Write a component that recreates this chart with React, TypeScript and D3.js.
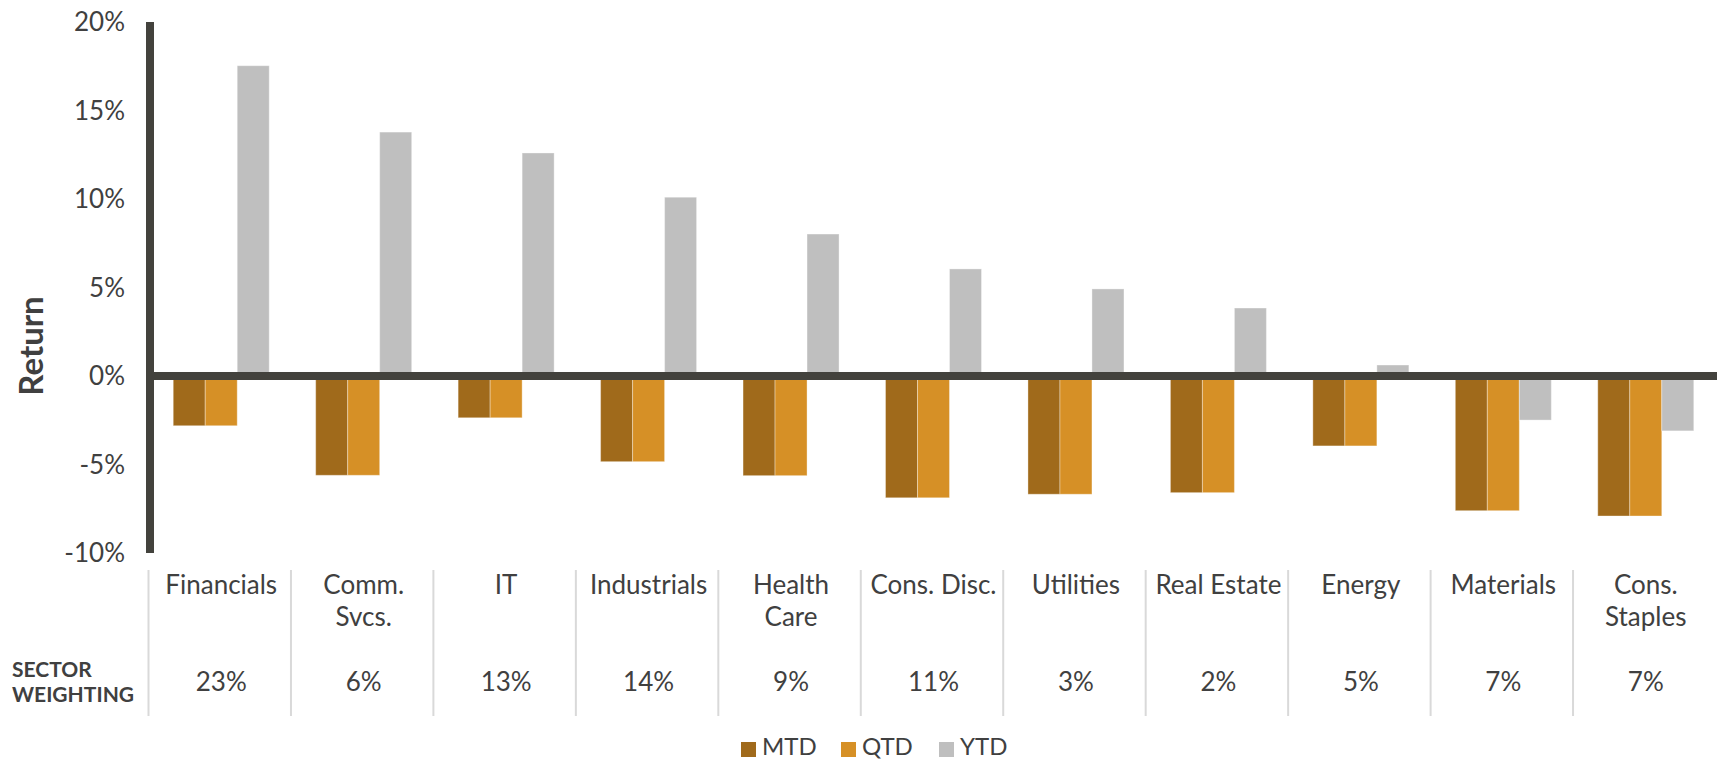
import React from "react";
import * as d3 from "d3";

const categories: string[][] = [
  ["Financials"],
  ["Comm.", "Svcs."],
  ["IT"],
  ["Industrials"],
  ["Health", "Care"],
  ["Cons. Disc."],
  ["Utilities"],
  ["Real Estate"],
  ["Energy"],
  ["Materials"],
  ["Cons.", "Staples"],
];
const seriesNames = ["MTD", "QTD", "YTD"];
const mtd = [-2.81, -5.61, -2.36, -4.84, -5.63, -6.88, -6.68, -6.59, -3.95, -7.61, -7.91];
const qtd = [-2.81, -5.61, -2.36, -4.84, -5.63, -6.88, -6.68, -6.59, -3.95, -7.61, -7.91];
const ytd = [17.53, 13.78, 12.6, 10.1, 8.02, 6.05, 4.92, 3.84, 0.62, -2.49, -3.1];
const weights = ["23%", "6%", "13%", "14%", "9%", "11%", "3%", "2%", "5%", "7%", "7%"];
const yTicks = [-10, -5, 0, 5, 10, 15, 20];
const colors = ["#A06A1B", "#D69026", "#BFBFBF"];

const W = 1717;
const H = 760;
const FONT = "Lato, 'Open Sans', sans-serif";
const TEXT = "#404040";
const AXIS = "#43423D";

export default function App() {
  const keys = categories.map((c) => c.join(" "));
  const x0 = d3.scaleBand<string>().domain(keys).range([150, W]).padding(0);
  const bw = x0.bandwidth();
  const groupW = 96;
  const x1 = d3
    .scaleBand<string>()
    .domain(seriesNames)
    .range([(bw - groupW) / 2, (bw + groupW) / 2])
    .padding(0);
  const y = d3.scaleLinear().domain([-10, 20]).range([553, 22]);
  const data = [mtd, qtd, ytd];

  return (
    <svg
      width={W}
      height={H}
      style={{ position: "absolute", left: 0, top: 0, background: "#fff" }}
      fontFamily={FONT}
    >
      {/* bars */}
      {keys.map((k, i) => (
        <g key={k} transform={`translate(${x0(k)},0)`}>
          {seriesNames.map((s, j) => {
            const v = data[j][i];
            const y0 = y(0);
            const yv = y(v);
            return (
              <rect
                key={s}
                x={x1(s)}
                width={x1.bandwidth()}
                y={Math.min(y0, yv)}
                height={Math.abs(yv - y0)}
                fill={colors[j]}
                stroke="#ffffff"
                strokeOpacity={0.35}
                strokeWidth={1}
              />
            );
          })}
        </g>
      ))}

      {/* y axis */}
      <line x1={150} x2={150} y1={y(20)} y2={y(-10)} stroke={AXIS} strokeWidth={8} />
      <line x1={146} x2={W} y1={y(0)} y2={y(0)} stroke={AXIS} strokeWidth={8} />
      {yTicks.map((t) => (
        <text
          key={t}
          x={125}
          y={y(t)}
          dy="0.35em"
          textAnchor="end"
          fontSize={26}
          fill={TEXT}
        >
          {`${t}%`}
        </text>
      ))}
      <text
        transform={`translate(43,346) rotate(-90)`}
        textAnchor="middle"
        fontSize={33}
        fontWeight="bold"
        fill={TEXT}
      >
        Return
      </text>

      {/* separators */}
      {keys.map((k) => (
        <line
          key={"sep" + k}
          x1={(x0(k) as number) - 1.5}
          x2={(x0(k) as number) - 1.5}
          y1={570}
          y2={716}
          stroke="#D9D9D9"
          strokeWidth={2}
        />
      ))}

      {/* category labels */}
      {categories.map((lines, i) => (
        <text
          key={"cat" + i}
          x={(x0(keys[i]) as number) + bw / 2}
          y={594}
          textAnchor="middle"
          fontSize={26}
          fill={TEXT}
        >
          {lines.map((l, li) => (
            <tspan key={li} x={(x0(keys[i]) as number) + bw / 2} dy={li === 0 ? 0 : 32}>
              {l}
            </tspan>
          ))}
        </text>
      ))}

      {/* weights */}
      <text x={12} y={677} fontSize={21} fontWeight="bold" fill={TEXT}>
        SECTOR
      </text>
      <text x={12} y={702} fontSize={21} fontWeight="bold" fill={TEXT}>
        WEIGHTING
      </text>
      {weights.map((w, i) => (
        <text
          key={"w" + i}
          x={(x0(keys[i]) as number) + bw / 2}
          y={691}
          textAnchor="middle"
          fontSize={26}
          fill={TEXT}
        >
          {w}
        </text>
      ))}

      {/* legend */}
      {seriesNames.map((s, j) => {
        const lx = [741, 841, 939][j];
        return (
          <g key={"lg" + s}>
            <rect x={lx} y={742} width={15} height={15} fill={colors[j]} />
            <text x={lx + 21} y={755} fontSize={24} fill={TEXT}>
              {s}
            </text>
          </g>
        );
      })}
    </svg>
  );
}
